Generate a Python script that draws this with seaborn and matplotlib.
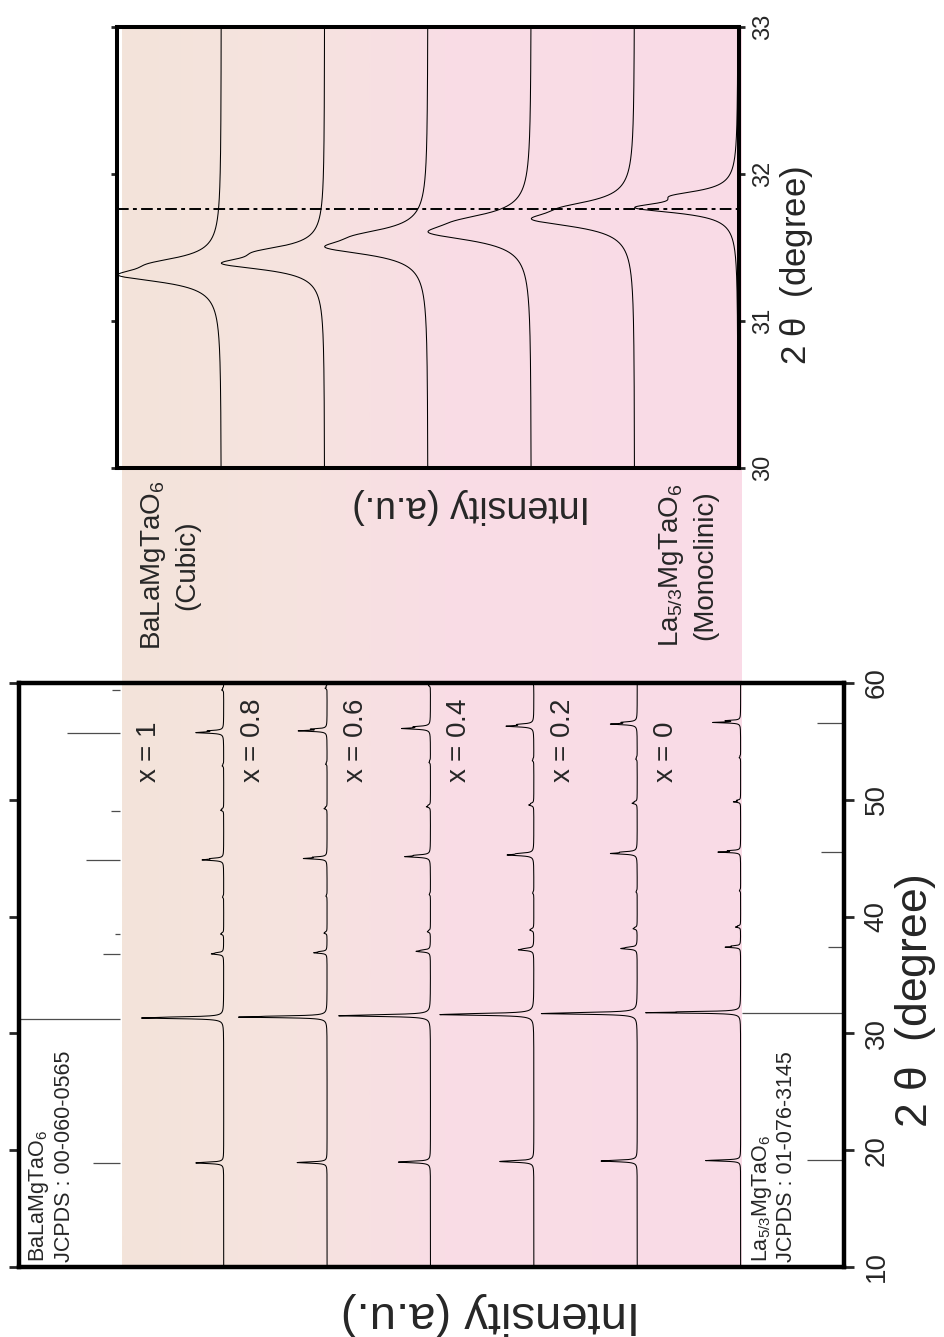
import numpy as np
import matplotlib
matplotlib.use("Agg")
import matplotlib.pyplot as plt
from matplotlib.colors import LinearSegmentedColormap
import seaborn as sns

# ---------------- data ----------------
compositions = ["1", "0.8", "0.6", "0.4", "0.2", "0"]
trace_offsets = [600, 500, 400, 300, 200, 100]      # main panel baselines
inset_offsets = [500, 400, 300, 200, 100, 0]        # 30-33 deg panel baselines

# measured reflections (Cu K-alpha1 position, intensity) for each composition
peaks_x10 = [18.90, 31.31, 36.80, 38.50, 41.65, 44.85, 49.10, 52.90, 55.75, 59.40]
hts_x10 = [27, 80, 12, 3, 1.2, 21, 3, 1.5, 27, 2]
peaks_x08 = [18.93, 31.39, 36.90, 38.58, 41.75, 44.97, 49.24, 53.05, 55.90, 59.55]
hts_x08 = [29, 86, 13, 3, 1.2, 23, 3, 1.5, 28, 2]
peaks_x06 = [18.97, 31.50, 37.02, 38.70, 41.88, 45.13, 49.40, 53.20, 56.10, 59.78]
hts_x06 = [31, 89, 14, 3, 1.2, 25, 4, 1.5, 28, 2]
peaks_x04 = [19.02, 31.60, 37.15, 38.84, 42.00, 45.27, 49.55, 53.35, 56.30, 59.98]
hts_x04 = [33, 91, 15, 4, 1.2, 26, 5, 1.5, 27, 2]
peaks_x02 = [19.06, 31.69, 37.26, 38.96, 42.10, 45.40, 49.70, 53.48, 56.48]
hts_x02 = [35, 93, 16, 4, 1.2, 26, 5, 1.5, 26]
peaks_x00 = [19.10, 31.77, 37.38, 39.10, 42.20, 45.52, 49.82, 53.60, 56.62]
hts_x00 = [34, 92, 15, 5, 1.2, 22, 7, 1.5, 27]
fwhm = [0.11, 0.10, 0.12, 0.13, 0.12, 0.085]

# JCPDS reference patterns (relative intensity, %)
ref_cubic_pos = [18.90, 31.20, 36.80, 38.50, 44.85, 49.06, 55.75, 59.40]
ref_cubic_int = [27, 100, 17, 5, 34, 9, 53, 8]
ref_mono_pos = [19.20, 31.74, 37.40, 45.50, 56.60]
ref_mono_int = [36, 100, 16, 22, 26]

main_ticks = [10, 20, 30, 40, 50, 60]
inset_ticks = [30, 31, 32, 33]
marker_2theta = 31.76

all_peaks = [peaks_x10, peaks_x08, peaks_x06, peaks_x04, peaks_x02, peaks_x00]
all_hts = [hts_x10, hts_x08, hts_x06, hts_x04, hts_x02, hts_x00]

# ---------------- profile model ----------------
KA2_RATIO = 0.5
DLAMBDA = 0.00248  # (lambda_Ka2 - lambda_Ka1) / lambda_Ka1


def lorentz(d, w):
    return 1.0 / (1.0 + (2.0 * d / w) ** 2)


def line_shape(d, w):
    return 0.96 * lorentz(d, w) + 0.04 * lorentz(d, 3.0 * w)


def doublet(tt, p, w):
    shift = np.degrees(2.0 * np.tan(np.radians(p / 2.0)) * DLAMBDA)
    return line_shape(tt - p, w) + KA2_RATIO * line_shape(tt - p - shift, w)


def pattern(tt, pos, hts, w):
    y = np.zeros_like(tt)
    for p, h in zip(pos, hts):
        local = np.linspace(p - 0.3, p + 0.3, 3001)
        y += h * doublet(tt, p, w) / doublet(local, p, w).max()
    return y


# ---------------- styling ----------------
sns.set_style("ticks")
plt.rcParams["font.family"] = ["Liberation Sans", "DejaVu Sans"]
plt.rcParams["mathtext.fontset"] = "custom"
plt.rcParams["mathtext.rm"] = "Liberation Sans"
plt.rcParams["mathtext.it"] = "Liberation Sans:italic"
plt.rcParams["mathtext.bf"] = "Liberation Sans:bold"
plt.rcParams["mathtext.default"] = "regular"

W, H, DPI = 944, 1337, 100
fig = plt.figure(figsize=(W / DPI, H / DPI), dpi=DPI)


def box(x0, y0, x1, y1):
    return [x0 / W, 1 - y1 / H, (x1 - x0) / W, (y1 - y0) / H]


# colour band behind the measured patterns
bg = fig.add_axes([0, 0, 1, 1], zorder=0)
band = LinearSegmentedColormap.from_list(
    "band", [(0.0, "#F3E4DA"), (0.28, "#F6E3DF"), (0.52, "#F9DDE5"), (1.0, "#FADBE7")])
bg.imshow(np.linspace(0, 1, 400)[None, :], cmap=band, aspect="auto",
          extent=(122, 742, 1267, 27), interpolation="bilinear")
bg.set_xlim(0, W)
bg.set_ylim(H, 0)
bg.axis("off")

ax = fig.add_axes(box(19, 683, 844, 1267), zorder=2)
ax_in = fig.add_axes(box(117, 27, 739, 468), zorder=2)
for a in (ax, ax_in):
    a.set_facecolor("none")

# ---------------- main panel ----------------
tt = np.round(np.arange(10.0, 60.0001, 0.01), 3)
for pos, hts, w, off in zip(all_peaks, all_hts, fwhm, trace_offsets):
    sns.lineplot(x=off + pattern(tt, pos, hts, w), y=tt, orient="y", sort=False,
                 estimator=None, color="black", lw=0.75, ax=ax)

ax.hlines(ref_cubic_pos, 700, 700 + 0.98 * np.array(ref_cubic_int),
          color="#4d4d4d", lw=0.9, zorder=1)
ax.hlines(ref_mono_pos, 0, 0.99 * np.array(ref_mono_int),
          color="#4d4d4d", lw=0.9, zorder=1)

for comp, off in zip(compositions, trace_offsets):
    ax.text(off + 72, 51.4, rf"$x$ = {comp}", rotation=90, ha="center",
            va="bottom", fontsize=20)

ax.text(790, 10.45, "BaLaMgTaO$_6$\nJCPDS : 00-060-0565", rotation=90,
        ha="left", va="bottom", multialignment="left", fontsize=15.5, linespacing=1.15)
ax.text(91, 10.45, "La$_{5/3}$MgTaO$_6$\nJCPDS : 01-076-3145", rotation=90,
        ha="left", va="bottom", multialignment="left", fontsize=15.5, linespacing=1.15)

ax.set_xlim(798, 0)
ax.set_ylim(10, 60)
ax.set_xticks([])
ax.set_yticks(main_ticks)
ax.tick_params(axis="y", left=True, right=True, labelleft=False, labelright=True,
               direction="out", length=7, width=2, labelsize=20, pad=7,
               labelrotation=90)
for t in ax.yaxis.get_major_ticks():
    t.label2.set_va("center")
ax.yaxis.set_label_position("right")
ax.set_ylabel(r"2 $\theta$  (degree)", fontsize=32, rotation=90,
              va="center", ha="center")
ax.yaxis.set_label_coords(1.087, 0.455)
ax.set_xlabel("Intensity (a.u.)", fontsize=34, rotation=180, va="center", ha="center")
ax.xaxis.set_label_coords(0.571, -0.080)
for s in ax.spines.values():
    s.set_visible(True)
    s.set_linewidth(3.2)
    s.set_color("black")

# ---------------- 30-33 deg panel ----------------
tt_in = np.round(np.arange(30.0, 33.0001, 0.002), 4)
for pos, hts, w, off in zip(all_peaks, all_hts, fwhm, inset_offsets):
    prof = pattern(tt_in, pos, hts, w)
    sns.lineplot(x=off + 100.0 * prof / prof.max(), y=tt_in, orient="y", sort=False,
                 estimator=None, color="black", lw=0.75, ax=ax_in)

ax_in.axhline(marker_2theta, color="black", lw=1.4,
              ls=(0, (6, 2.2, 2.0, 2.2)), zorder=3)

ax_in.set_xlim(601, -1)
ax_in.set_ylim(30, 33)
ax_in.set_xticks([])
ax_in.set_yticks(inset_ticks)
ax_in.tick_params(axis="y", left=True, right=True, labelleft=False, labelright=True,
                  direction="out", length=4.5, width=2, labelsize=17, pad=5,
                  labelrotation=90)
for t in ax_in.yaxis.get_major_ticks():
    t.label2.set_va("center")
ax_in.yaxis.set_label_position("right")
ax_in.set_ylabel(r"2 $\theta$  (degree)", fontsize=25, rotation=90,
                 va="center", ha="center")
ax_in.yaxis.set_label_coords(1.093, 0.458)
ax_in.set_xlabel("Intensity (a.u.)", fontsize=27, rotation=180, va="center", ha="center")
ax_in.xaxis.set_label_coords(0.569, -0.086)
for s in ax_in.spines.values():
    s.set_visible(True)
    s.set_linewidth(2.9)
    s.set_color("black")

# phase names beside the colour band
fig.text(170 / W, 1 - 565 / H, "BaLaMgTaO$_6$\n(Cubic)", rotation=90, ha="center",
         va="center", multialignment="center", fontsize=20, linespacing=1.3)
fig.text(688 / W, 1 - 565 / H, "La$_{5/3}$MgTaO$_6$\n(Monoclinic)", rotation=90,
         ha="center", va="center", multialignment="center", fontsize=20, linespacing=1.3)

fig.savefig("out.png", dpi=DPI)
